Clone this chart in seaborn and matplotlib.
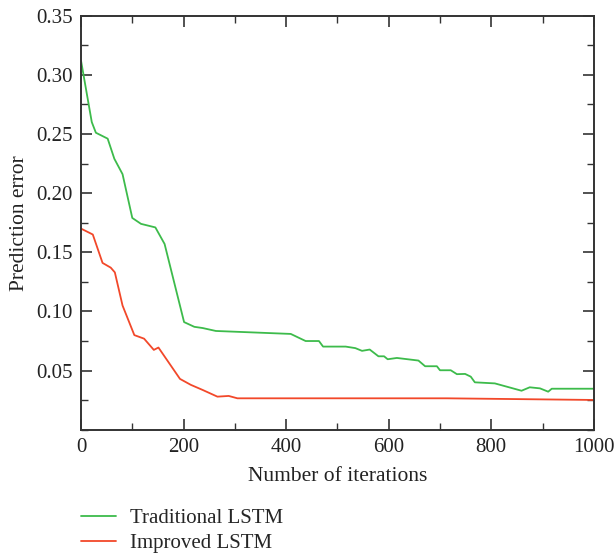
import numpy as np
import pandas as pd
import matplotlib.pyplot as plt
import seaborn as sns
from matplotlib.ticker import MultipleLocator

# Traditional LSTM
trad_x = [0, 21, 29, 52, 65, 81, 100, 117, 145, 163, 201, 221, 237, 263,
          409, 438, 464, 472, 516, 535, 548, 563, 580, 591, 598, 616, 658,
          671, 694, 700, 721, 733, 749, 760, 768, 807, 859, 875, 895, 911,
          918, 1000]
trad_y = [0.312, 0.260, 0.251, 0.246, 0.229, 0.216, 0.179, 0.174, 0.171,
          0.157, 0.091, 0.087, 0.086, 0.0835, 0.081, 0.075, 0.075, 0.0703,
          0.0703, 0.069, 0.0667, 0.0678, 0.0621, 0.0621, 0.0596, 0.0607,
          0.0585, 0.0537, 0.0537, 0.0503, 0.0503, 0.047, 0.0472, 0.0449,
          0.0401, 0.0392, 0.033, 0.0359, 0.035, 0.0322, 0.0347, 0.0347]

# Improved LSTM
impr_x = [0, 23, 42, 58, 66, 81, 104, 123, 142, 151, 193, 214, 237, 266,
          288, 305, 713, 1000]
impr_y = [0.170, 0.165, 0.141, 0.137, 0.133, 0.105, 0.080, 0.077, 0.0675,
          0.0695, 0.043, 0.038, 0.0337, 0.028, 0.0286, 0.0266, 0.0266, 0.0252]

sns.set_theme(style="ticks")
plt.rcParams['font.family'] = ['Liberation Serif', 'DejaVu Serif']

fig = plt.figure(figsize=(6.16, 5.56), dpi=100)
ax = fig.add_axes([0.1315, 0.227, 0.8325, 0.745])

sns.lineplot(x=trad_x, y=trad_y, color='#3dbb4b', linewidth=1.3,
             label='Traditional LSTM', ax=ax)
sns.lineplot(x=impr_x, y=impr_y, color='#f2482a', linewidth=1.3,
             label='Improved LSTM', ax=ax)

ax.set_xlim(0, 1000)
ax.set_ylim(0, 0.35)
ax.xaxis.set_major_locator(MultipleLocator(200))
ax.xaxis.set_minor_locator(MultipleLocator(100))
ax.yaxis.set_minor_locator(MultipleLocator(0.025))
yt = np.arange(0.05, 0.351, 0.05)
ax.set_yticks(yt)
ax.set_yticklabels([f'{v:.2f}' for v in yt])

ax.tick_params(which='both', direction='in', top=True, right=True,
               labelsize=15, colors='#333333', labelcolor='#222222')
ax.tick_params(which='major', length=8, width=1.2, pad=6)
ax.tick_params(which='minor', length=5, width=1.0)
for sp in ax.spines.values():
    sp.set_color('#333333')
    sp.set_linewidth(1.4)

ax.set_xlabel('Number of iterations', fontsize=15.5, color='#222222', labelpad=7)
ax.set_ylabel('Prediction error', fontsize=15.5, color='#222222', labelpad=5)

ax.legend(loc='upper left', bbox_to_anchor=(0.0, -0.19), frameon=False,
          fontsize=15, handlelength=1.7, handletextpad=0.63, labelspacing=0.25,
          borderaxespad=0, borderpad=0)

fig.savefig('out.png', dpi=100)
